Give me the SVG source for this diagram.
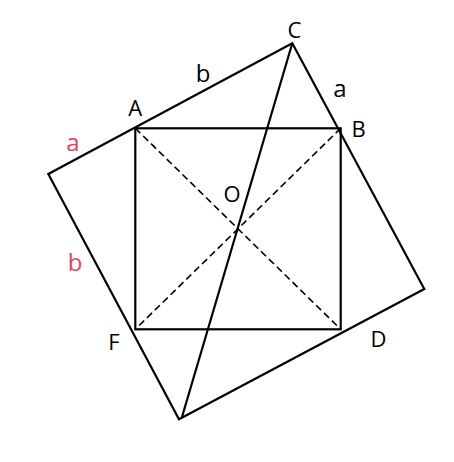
<svg xmlns="http://www.w3.org/2000/svg" width="454" height="462" viewBox="0 0 454 462">
<style>
.ln{fill:none;stroke:#000;stroke-width:2.2;stroke-linejoin:miter}
.ds{fill:none;stroke:#000;stroke-width:1.6;stroke-dasharray:7 4}
.up{font-family:"Open Sans","Noto Sans",sans-serif;font-size:22px;fill:#000;text-anchor:middle}
.lo{font-family:"Open Sans","Noto Sans",sans-serif;font-size:24px;fill:#000;text-anchor:middle}
.red{fill:#EA3F5F}
</style>
<rect width="454" height="462" fill="#fff"/>
<g id="connectors">
<polygon id="outer-square" class="ln" points="292.3,43.3 424.3,289 179,419.3 48.3,174"/>
<rect id="inner-square" class="ln" x="135.3" y="128.3" width="205.4" height="201"/>
<line id="line-C" class="ln" x1="292.3" y1="43.3" x2="182" y2="417"/>
<line id="diag-A" class="ds" x1="135.3" y1="128.3" x2="340.7" y2="329.3"/>
<line id="diag-B" class="ds" x1="340.7" y1="128.3" x2="135.3" y2="329.3"/>
</g>
<g id="labels">
<text class="up" x="294.5" y="38.3">C</text>
<text class="up" x="358.5" y="136.7">B</text>
<text class="up" x="135.3" y="115.7">A</text>
<text class="up" x="232" y="201.6">O</text>
<text class="up" x="114" y="350">F</text>
<text class="up" x="378.5" y="346.7">D</text>
<text class="lo" x="203" y="82.3">b</text>
<text class="lo" x="340" y="96.7">a</text>
<text class="lo red" x="73" y="151">a</text>
<text class="lo red" x="75" y="270.7">b</text>
</g>
</svg>
